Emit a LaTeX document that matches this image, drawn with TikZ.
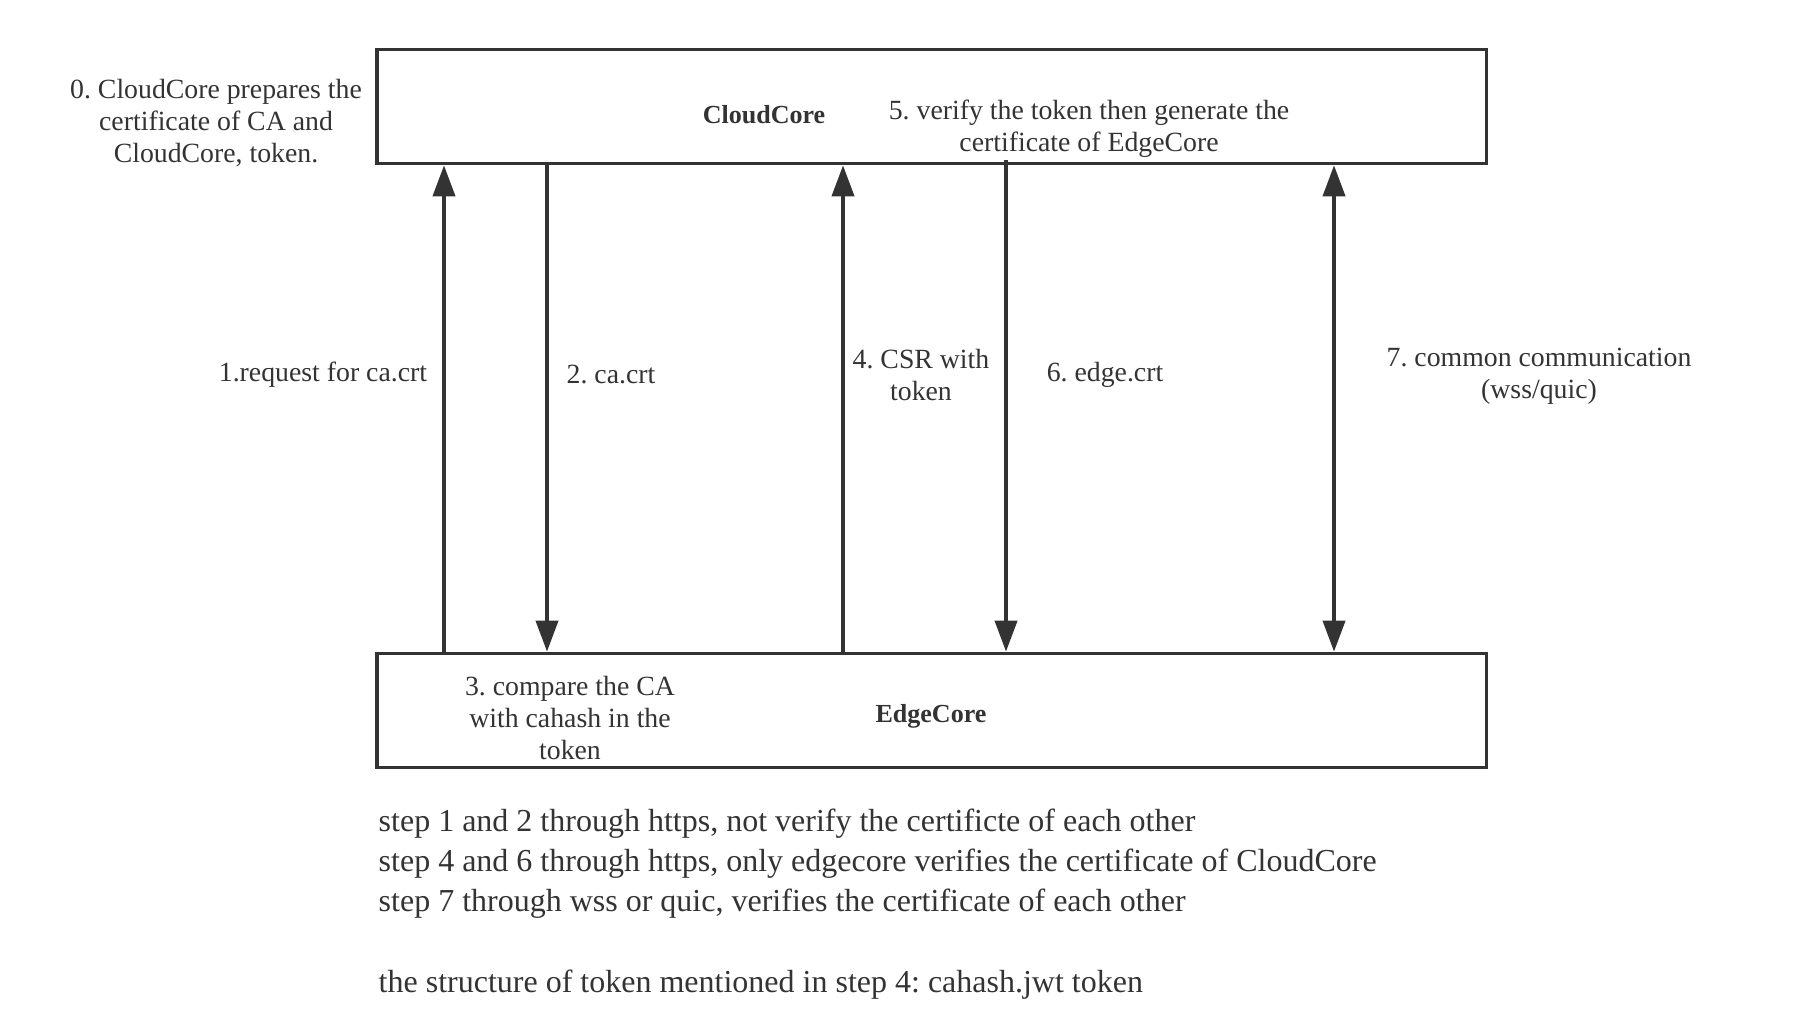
\documentclass[tikz,border=0pt]{standalone}
\usepackage{fontspec}
\setmainfont{Liberation Serif}
\usepackage{tikz}
\usetikzlibrary{arrows.meta,positioning,calc}
\definecolor{inkgrey}{HTML}{333333}
\frenchspacing

\begin{document}
\begin{tikzpicture}[x=0.01cm,y=-0.01cm,
  core/.style={draw=inkgrey,line width=1.05pt,minimum width=11.09cm,minimum height=1.14cm,inner sep=0pt},
  lbl/.style={text=inkgrey,inner sep=0pt,align=center,font=\fontsize{7.9}{9.1}\selectfont},
  corename/.style={lbl,font=\bfseries\fontsize{7.4}{9.1}\selectfont},
  note/.style={text=inkgrey,inner sep=0pt,align=left,font=\fontsize{9.1}{11.4}\selectfont},
  flow/.style={draw=inkgrey,line width=0.95pt,-{Triangle[length=8.8pt,width=6.3pt]}},
  both/.style={flow,{Triangle[length=8.8pt,width=6.3pt]}-{Triangle[length=8.8pt,width=6.3pt]}}]
\useasboundingbox (0,0) rectangle (1798,1025);
% the two sides
\node[core] (cloud) at (931.5,106.5) {};
\node[core] (edge) at (931.5,710.5) {};
\node[corename] (cloudname) at (764,115) {CloudCore};
\node[corename] (edgename) at (931,716) {EdgeCore};
% columns of the steps
\coordinate (s1) at (444,0);
\coordinate (s2) at (547,0);
\coordinate (s4) at (843,0);
\coordinate (s6) at (1006,0);
\coordinate (s7) at (1334,0);
\draw[flow] (edge.north -| s1) -- (cloud.south -| s1);
\draw[flow] (cloud.south -| s2) -- (edge.north -| s2);
\draw[flow] (edge.north -| s4) -- (cloud.south -| s4);
\draw[flow] ([yshift=1.6pt]cloud.south -| s6) -- (edge.north -| s6);
\draw[both] (cloud.south -| s7) -- (edge.north -| s7);
% step labels
\node[lbl] (step0) at (216,123) {0. CloudCore prepares the\\certificate of CA and\\CloudCore, token.};
\node[lbl] (step1) at (323,375) {1.request for ca.crt};
\node[lbl] (step2) at (611,375) {2. ca.crt};
\node[lbl] (step3) at (570,718) {3. compare the CA\\with cahash in the\\token};
\node[lbl] (step4) at (921,375) {4. CSR with\\token};
\node[lbl] (step5) at (1089,129) {5. verify the token then generate the\\certificate of EdgeCore};
\node[lbl] (step6) at (1105,375) {6. edge.crt};
\node[lbl] (step7) at (1539,376) {7. common communication\\(wss/quic)};
% notes under the diagram
\node[note,anchor=west] (notes) at (378,904) {step 1 and 2 through https, not verify the certificte of each other\\
step 4 and 6 through https, only edgecore verifies the certificate of CloudCore\\
step 7 through wss or quic, verifies the certificate of each other\\
\mbox{}\\
the structure of token mentioned in step 4: cahash.jwt token};
\end{tikzpicture}
\end{document}
